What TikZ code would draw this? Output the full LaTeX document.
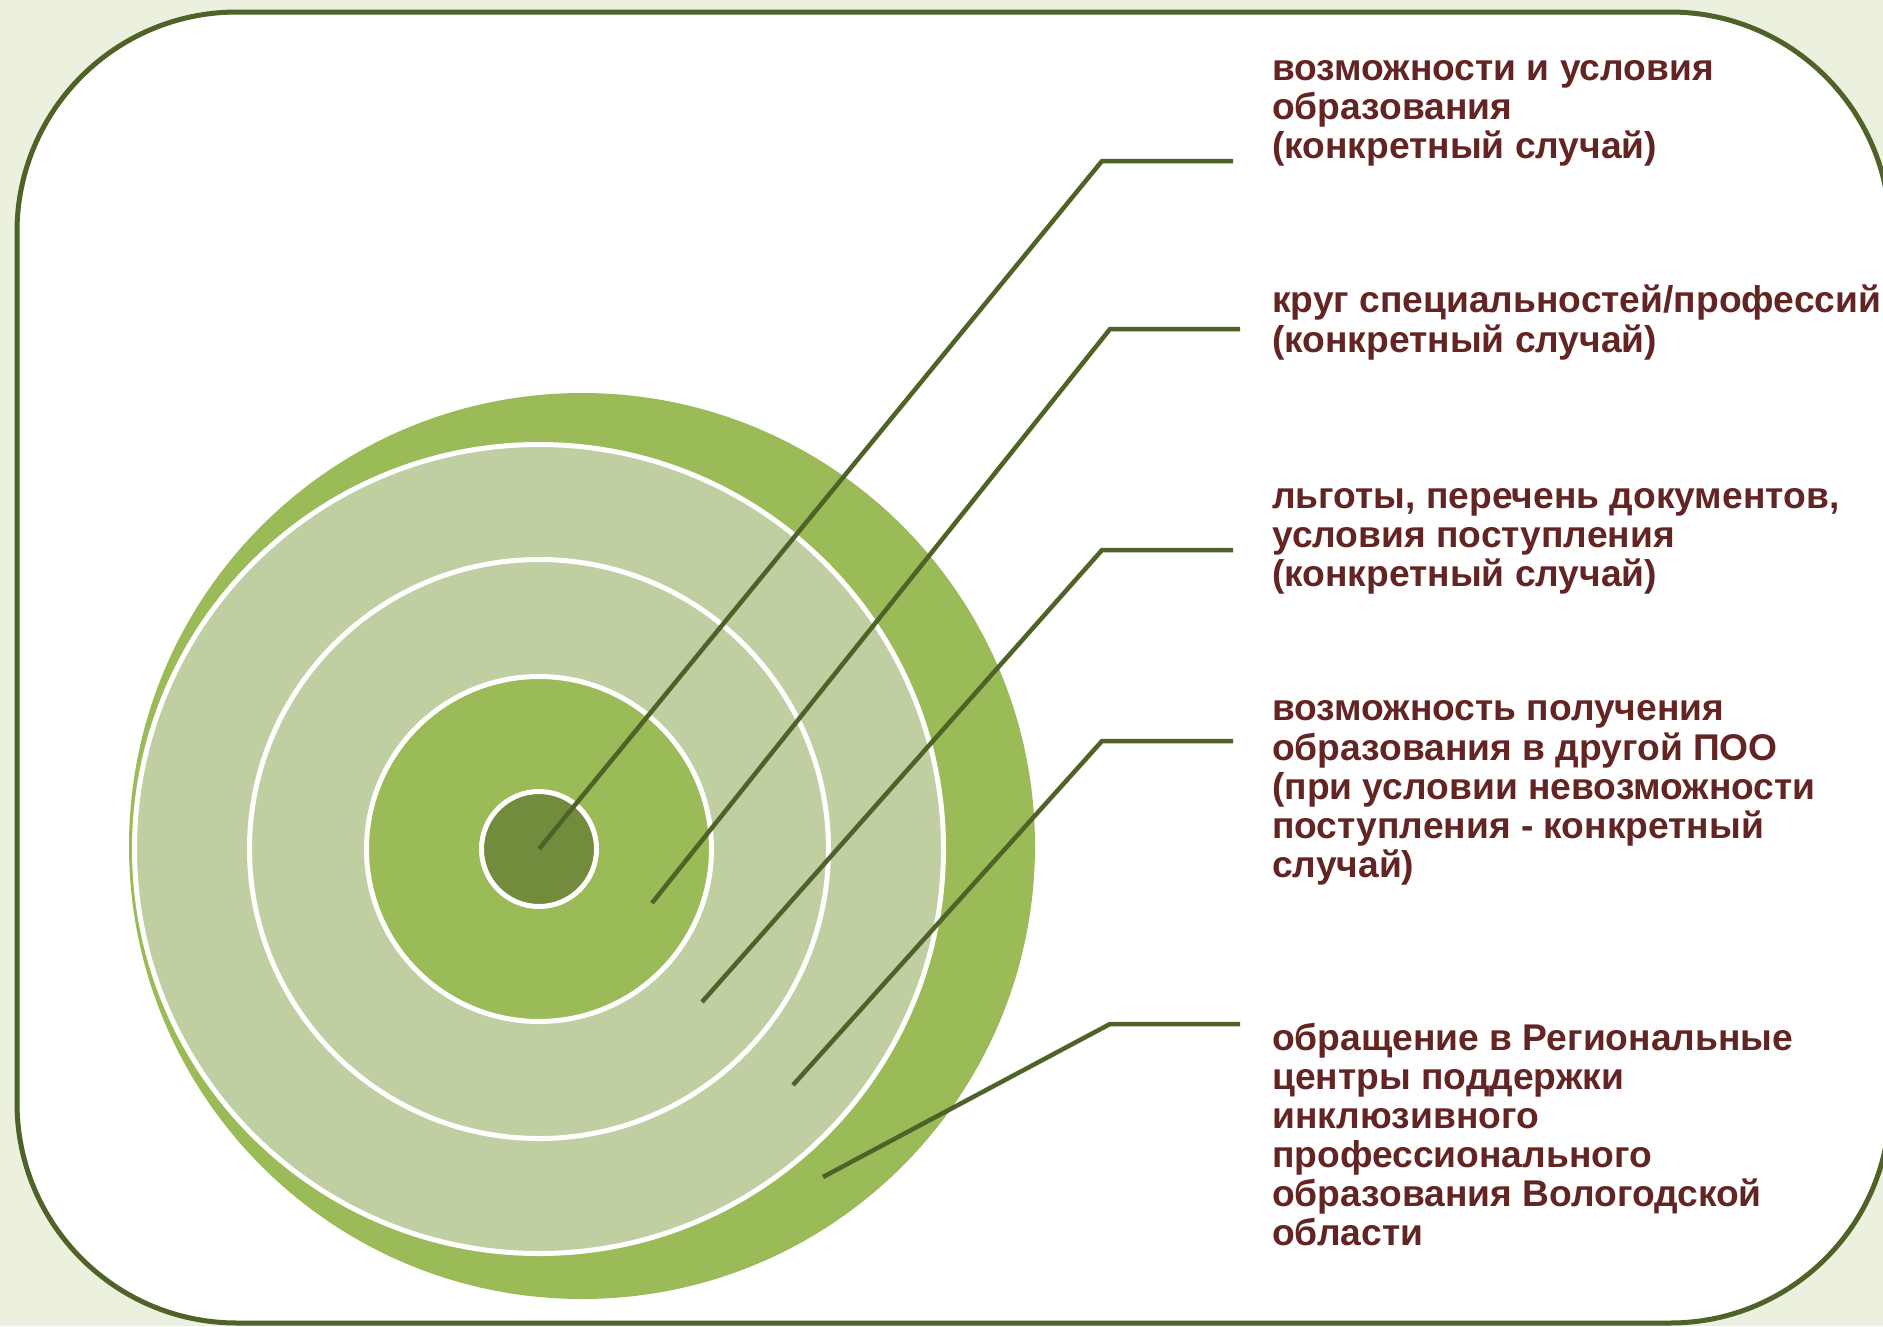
\documentclass[tikz,border=0pt]{standalone}
\usepackage{fontspec}
\setmainfont{Liberation Sans}
\definecolor{pagebg}{HTML}{EBF0DF}
\definecolor{frameline}{HTML}{4F6228}
\definecolor{ringmid}{HTML}{9BBB59}
\definecolor{ringlight}{HTML}{BFCFA1}
\definecolor{ringcore}{HTML}{728B3D}
\definecolor{textred}{HTML}{632523}
\tikzset{
  >=latex,
}
\tikzstyle{frame}=[line width=5pt,draw=frameline,fill=white,rounded corners=220pt]
\tikzstyle{ring}=[draw=white,line width=5pt]
\tikzstyle{leader}=[line width=4.5pt,draw=frameline]
\tikzstyle{note}=[anchor=north west,inner sep=0pt,align=left,text=textred,font=\fontsize{37.2}{39}\selectfont\bfseries]

\begin{document}
\begin{tikzpicture}[x=1pt,y=-1pt]
    \useasboundingbox (0,0) rectangle (1883,1326);
    \fill[pagebg] (0,0) rectangle (1883,1326);
    \draw[frame] (17,12) rectangle (1890,1323);
    % target rings
    \fill[ringmid] (582,846) circle (453pt);
    \filldraw[ring,fill=ringlight] (539,849) circle (404.5pt);
    \filldraw[ring,fill=ringlight] (539,849) circle (289.5pt);
    \filldraw[ring,fill=ringmid] (539,849) circle (172.5pt);
    \filldraw[ring,fill=ringcore] (539,849) circle (57.5pt);
    % texts
    \node[note] (t1) at (1272,52.7) {\strut возможности и условия\\образования\\(конкретный случай)};
    \node[note] (t2) at (1272,284.7) {\strut круг специальностей/профессий\\(конкретный случай)};
    \node[note] (t3) at (1272,480.7) {\strut льготы, перечень документов,\\условия поступления\\(конкретный случай)};
    \node[note] (t4) at (1272,692.7) {\strut возможность получения\\образования в другой ПОО\\(при условии невозможности\\поступления - конкретный\\случай)};
    \node[note] (t5) at (1272,1022.7) {\strut обращение в Региональные\\центры поддержки\\инклюзивного\\профессионального\\образования Вологодской\\области};
    % leaders
    \coordinate (s1) at (539,849);  \coordinate (k1) at (1102,161);  \coordinate (e1) at (1233,161);
    \coordinate (s2) at (652,903);  \coordinate (k2) at (1110,329);  \coordinate (e2) at (1240,329);
    \coordinate (s3) at (702,1002); \coordinate (k3) at (1102,550);  \coordinate (e3) at (1233,550);
    \coordinate (s4) at (793,1085); \coordinate (k4) at (1102,741);  \coordinate (e4) at (1233,741);
    \coordinate (s5) at (823,1177); \coordinate (k5) at (1110,1024); \coordinate (e5) at (1240,1024);
    \foreach \i in {1,...,5}
      \draw[leader] (s\i)--(k\i)--(e\i);
\end{tikzpicture}
\end{document}
